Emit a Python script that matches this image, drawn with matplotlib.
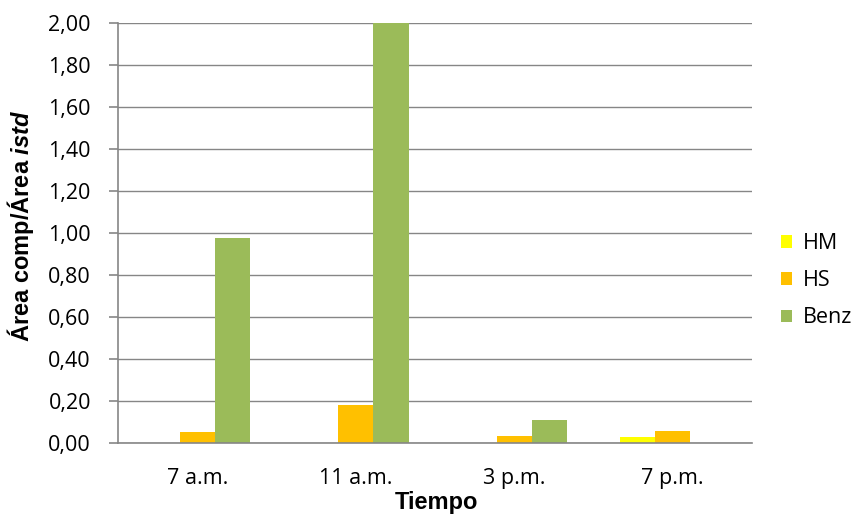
import numpy as np
import matplotlib.pyplot as plt

# data
categories = ['7 a.m.', '11 a.m.', '3 p.m.', '7 p.m.']
hm = [0.0, 0.0, 0.0, 0.029]
hs = [0.052, 0.182, 0.034, 0.058]
benz = [0.975, 2.00, 0.111, 0.0]
y_ticks = [0.0, 0.2, 0.4, 0.6, 0.8, 1.0, 1.2, 1.4, 1.6, 1.8, 2.0]
y_tick_labels = ['0,00', '0,20', '0,40', '0,60', '0,80', '1,00',
                 '1,20', '1,40', '1,60', '1,80', '2,00']

series = [('HM', hm, '#FFFF00'), ('HS', hs, '#FFC000'), ('Benz', benz, '#9BBB59')]

plt.rcParams['font.family'] = ['Open Sans', 'DejaVu Sans']
plt.rcParams['mathtext.fontset'] = 'custom'
plt.rcParams['mathtext.it'] = 'Liberation Sans:bold:italic'

fig = plt.figure(figsize=(8.59, 5.15), dpi=100)
ax = fig.add_axes([118 / 859, 72 / 515, (752 - 118) / 859, (443 - 23) / 515])

x = np.arange(len(categories))
w = 0.222
for i, (name, vals, col) in enumerate(series):
    ax.bar(x + (i - 1) * w, vals, width=w, color=col, label=name, zorder=3)

ax.set_xlim(-0.5, 3.5)
ax.set_ylim(0, 2.0)
ax.set_yticks(y_ticks)
ax.set_yticklabels(y_tick_labels)
ax.set_xticks(x)
ax.set_xticklabels(categories)

ax.grid(axis='y', color='#868686', linewidth=1, zorder=0)
for s in ['top', 'right']:
    ax.spines[s].set_visible(False)
for s in ['left', 'bottom']:
    ax.spines[s].set_color('#868686')
    ax.spines[s].set_linewidth(1.2)
    ax.spines[s].set_zorder(4)
ax.tick_params(axis='y', direction='out', length=6.5, color='#868686', width=1.2,
               labelsize=15.5, pad=13)
ax.tick_params(axis='x', length=0, labelsize=15.5, pad=18)

# axis titles placed in figure coords
fig.text(21 / 859, 1 - 226 / 515, r'Área comp/Área $\mathit{istd}$', rotation=90,
         fontsize=17, fontweight='bold', family='Liberation Sans',
         ha='center', va='center')
fig.text(436 / 859, 1 - 503 / 515, 'Tiempo', fontsize=17, fontweight='bold',
         family='Liberation Sans', ha='center', va='center')

fig.legend(loc='center left', bbox_to_anchor=(0.897, 0.455), frameon=False,
           fontsize=15.5, handlelength=0.5, handleheight=0.5, handletextpad=0.5,
           labelspacing=0.75, borderpad=0)

fig.savefig('out.png', dpi=100)
